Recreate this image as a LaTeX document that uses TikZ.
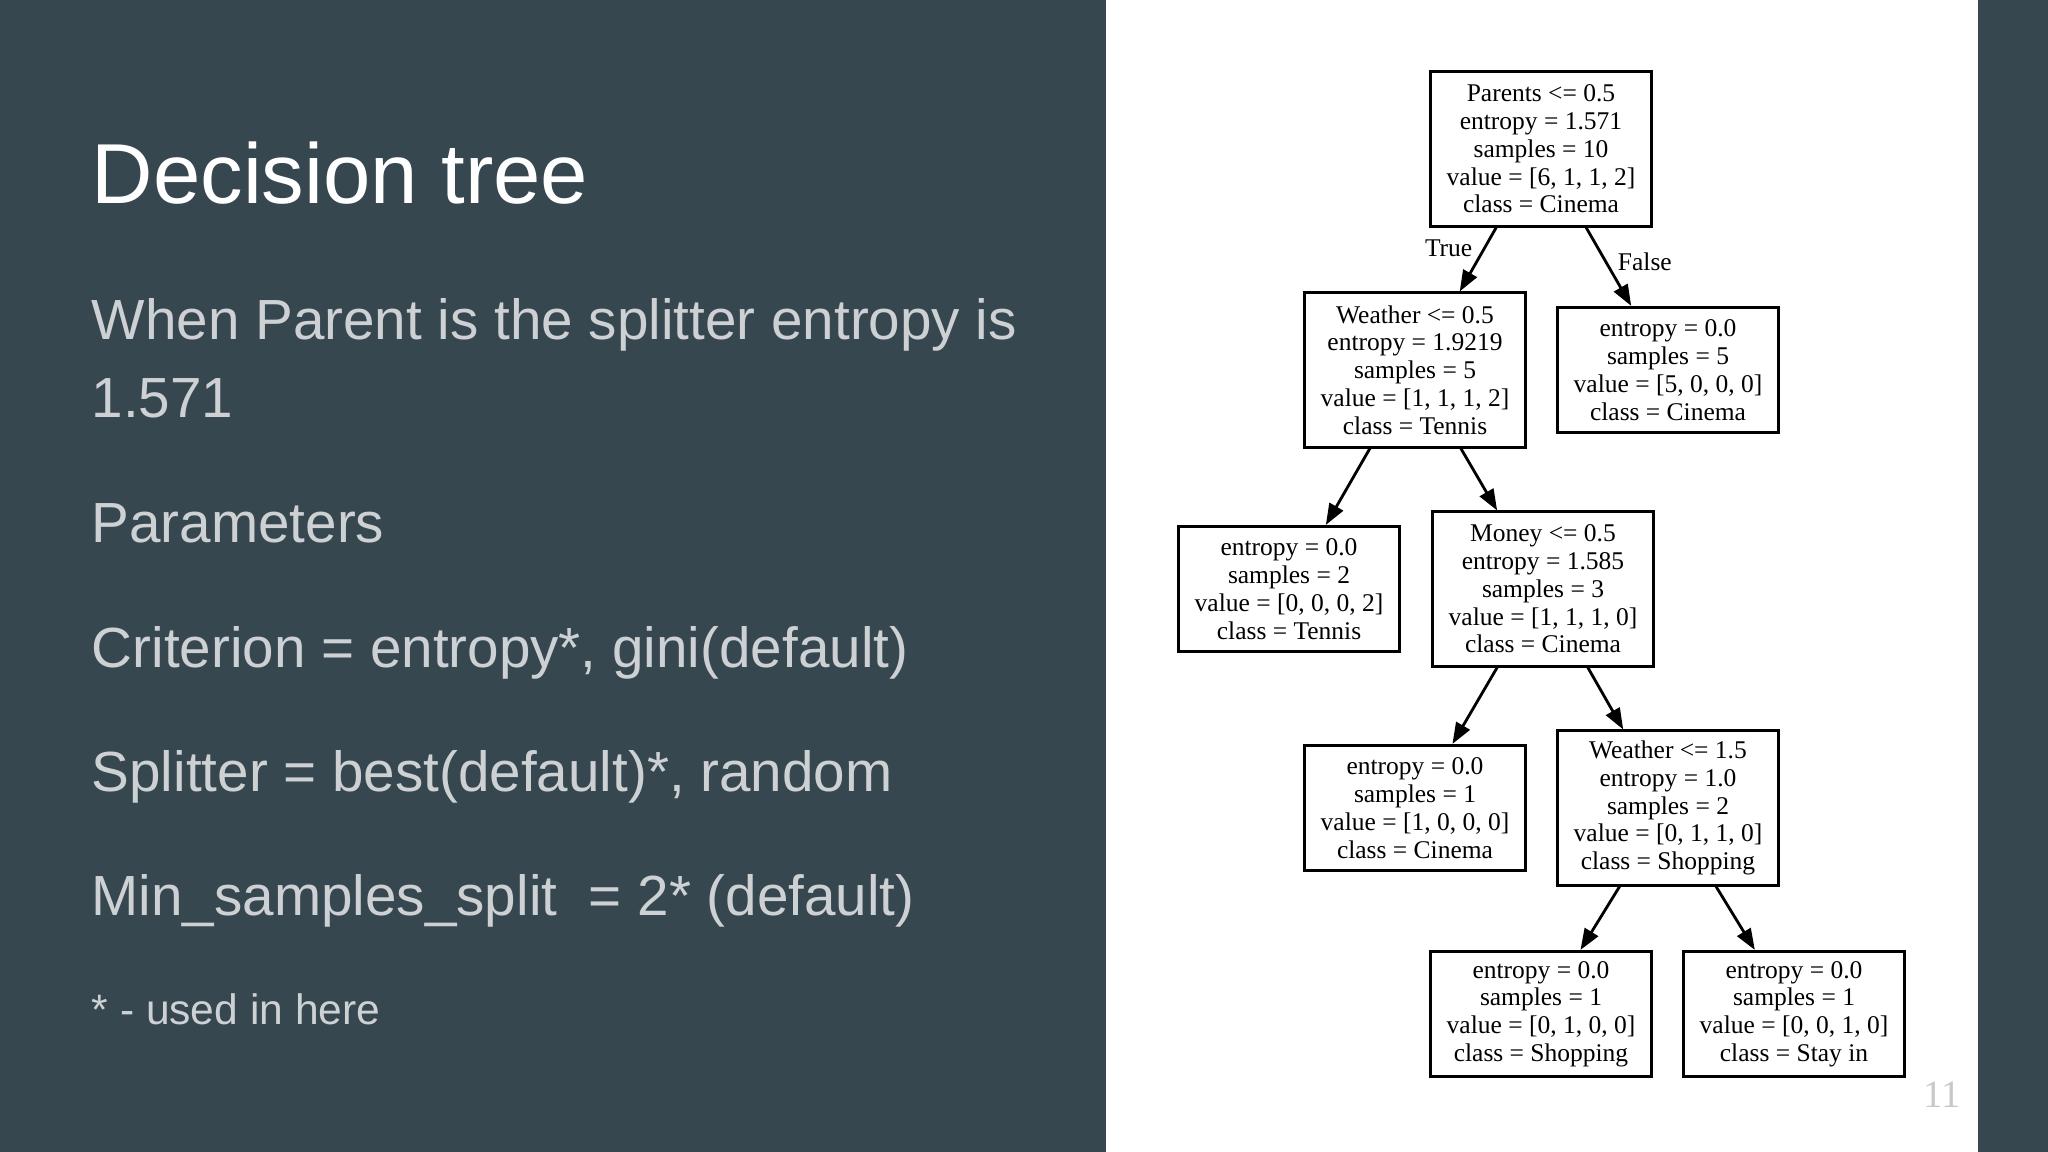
\documentclass[tikz,border=0pt]{standalone}
\usepackage{fontspec}
\setmainfont{Liberation Sans}
\newfontfamily\treefont{Liberation Serif}
\usetikzlibrary{arrows.meta}
\definecolor{slate}{RGB}{55,71,79}
\definecolor{bodygray}{RGB}{205,209,212}
\definecolor{pagegray}{RGB}{200,200,200}

\begin{document}
\begin{tikzpicture}[x=0.01cm,y=-0.01cm,
  treetext/.style={font=\treefont\fontsize{7.25}{7.9}\selectfont},
  box/.style={draw,line width=0.85pt,minimum width=62.8pt,inner sep=0pt,align=center,treetext},
  splitbox/.style={box,minimum height=43.8pt},
  leafbox/.style={box,minimum height=35.6pt},
  edge/.style={line width=0.8pt,-{Triangle[length=6pt,width=4.4pt]}},
  elabel/.style={treetext,inner sep=3pt},
  slidetext/.style={anchor=base west,inner sep=0pt,text=bodygray,font=\fontsize{16.1}{19}\selectfont}]

  % slide and white panel
  \fill[slate] (0,0) rectangle (2048,1152);
  \fill[white] (1106,0) rectangle (1978,1152);

  % left column
  \node[anchor=base west,inner sep=0pt,text=white,font=\fontsize{24.2}{29}\selectfont] (title) at (91,204) {Decision tree};
  \node[slidetext] (when) at (91,340) {When Parent is the splitter entropy is};
  \node[slidetext] (value) at (91,418) {1.571};
  \node[slidetext] (params) at (91,543) {Parameters};
  \node[slidetext] (crit) at (91,667) {Criterion = entropy*, gini(default)};
  \node[slidetext] (splitter) at (91,791) {Splitter = best(default)*, random};
  \node[slidetext] (minsplit) at (91,915) {Min\_samples\_split\ \ = 2* (default)};
  \node[slidetext,font=\fontsize{12.1}{14}\selectfont] (note) at (91,1024) {* - used in here};

  % tree
  \node[splitbox] (root) at (1541,149) {Parents <= 0.5\\entropy = 1.571\\samples = 10\\value = [6, 1, 1, 2]\\class = Cinema};
  \node[splitbox] (weatherA) at (1415,370) {Weather <= 0.5\\entropy = 1.9219\\samples = 5\\value = [1, 1, 1, 2]\\class = Tennis};
  \node[leafbox] (cinemaA) at (1668,370) {entropy = 0.0\\samples = 5\\value = [5, 0, 0, 0]\\class = Cinema};
  \node[leafbox] (tennis) at (1289,589) {entropy = 0.0\\samples = 2\\value = [0, 0, 0, 2]\\class = Tennis};
  \node[splitbox] (money) at (1543,589) {Money <= 0.5\\entropy = 1.585\\samples = 3\\value = [1, 1, 1, 0]\\class = Cinema};
  \node[leafbox] (cinemaB) at (1415,808) {entropy = 0.0\\samples = 1\\value = [1, 0, 0, 0]\\class = Cinema};
  \node[splitbox] (weatherB) at (1668,808) {Weather <= 1.5\\entropy = 1.0\\samples = 2\\value = [0, 1, 1, 0]\\class = Shopping};
  \node[leafbox] (shopping) at (1541,1014) {entropy = 0.0\\samples = 1\\value = [0, 1, 0, 0]\\class = Shopping};
  \node[leafbox] (stayin) at (1794,1014) {entropy = 0.0\\samples = 1\\value = [0, 0, 1, 0]\\class = Stay in};

  \draw[edge] (root) -- node[pos=0.33,left,elabel] {True} (weatherA);
  \draw[edge] (root) -- node[pos=0.44,right,elabel] {False} (cinemaA);
  \draw[edge] (weatherA) -- (tennis);
  \draw[edge] (weatherA) -- (money);
  \draw[edge] (money) -- (cinemaB);
  \draw[edge] (money) -- (weatherB);
  \draw[edge] (weatherB) -- (shopping);
  \draw[edge] (weatherB) -- (stayin);

  % page number
  \node[anchor=base west,inner sep=0pt,text=pagegray,font=\treefont\fontsize{11}{13}\selectfont] (pagenum) at (1923,1107) {11};
\end{tikzpicture}
\end{document}
